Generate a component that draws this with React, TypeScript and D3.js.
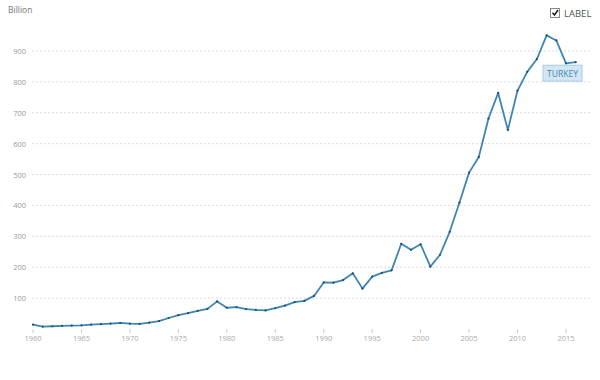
import React from "react";
import * as d3 from "d3";

const years: number[] = [
  1960, 1961, 1962, 1963, 1964, 1965, 1966, 1967, 1968, 1969,
  1970, 1971, 1972, 1973, 1974, 1975, 1976, 1977, 1978, 1979,
  1980, 1981, 1982, 1983, 1984, 1985, 1986, 1987, 1988, 1989,
  1990, 1991, 1992, 1993, 1994, 1995, 1996, 1997, 1998, 1999,
  2000, 2001, 2002, 2003, 2004, 2005, 2006, 2007, 2008, 2009,
  2010, 2011, 2012, 2013, 2014, 2015, 2016,
];
const gdpBillion: number[] = [
  14.0, 8.0, 8.9, 10.4, 11.2, 11.9, 14.1, 15.7, 17.5, 19.5,
  17.1, 16.3, 20.4, 25.7, 35.6, 44.6, 51.3, 58.7, 65.1, 89.4,
  68.8, 71.0, 64.5, 61.7, 60.0, 67.2, 75.7, 87.2, 90.9, 107.1,
  150.7, 150.0, 158.5, 180.2, 130.7, 169.5, 181.5, 189.8, 275.9, 256.4,
  274.3, 201.8, 240.3, 314.6, 408.9, 506.3, 557.1, 681.3, 764.3, 644.6,
  771.9, 832.5, 874.0, 950.6, 934.2, 859.8, 863.7,
];
const yTicks: number[] = [100, 200, 300, 400, 500, 600, 700, 800, 900];
const xTicks: number[] = [1960, 1965, 1970, 1975, 1980, 1985, 1990, 1995, 2000, 2005, 2010, 2015];
const seriesLabel = "TURKEY";
const unitLabel = "Billion";
const toggleLabel = "LABEL";

export default function App() {
  const W = 600, H = 380;
  const x = d3.scaleLinear().domain([1960, 2015]).range([33, 566]);
  const y = d3.scaleLinear().domain([0, 900]).range([329, 51]);
  const data = years.map((yr, i) => ({ yr, v: gdpBillion[i] }));
  const line = d3.line<{ yr: number; v: number }>().x(d => x(d.yr)).y(d => y(d.v));
  const font = "'Open Sans', 'Noto Sans', sans-serif";
  const last = data[data.length - 1];
  return (
    <svg width={W} height={H} style={{ position: "absolute", left: 0, top: 0, background: "#fff" }} fontFamily={font}>
      <rect x={0} y={0} width={W} height={H} fill="#fff" />
      <text x={8} y={13} fontSize={8.5} fill="#777">{unitLabel}</text>
      {yTicks.map(t => (
        <g key={t}>
          <line x1={32} x2={592} y1={y(t)} y2={y(t)} stroke="#dcdcdc" strokeWidth={1} strokeDasharray="2,2" />
          <text x={26} y={y(t) + 3} fontSize={7.5} fill="#999" textAnchor="end">{t}</text>
        </g>
      ))}
      {xTicks.map(t => (
        <g key={t}>
          <line x1={x(t)} x2={x(t)} y1={329} y2={333} stroke="#ccc" />
          <text x={x(t)} y={341} fontSize={7.5} fill="#aaa" textAnchor="middle">{t}</text>
        </g>
      ))}
      <path d={line(data) || ""} fill="none" stroke="#3d86b3" strokeWidth={1.8} strokeLinejoin="round" />
      {data.map(d => (
        <circle key={d.yr} cx={x(d.yr)} cy={y(d.v)} r={1.1} fill="#1f4e6e" />
      ))}
      <rect x={543} y={y(last.v) + 3} width={39} height={16} fill="#d4e6f3" stroke="#a9cbe3" strokeWidth={1} />
      <text x={562.5} y={y(last.v) + 14.5} fontSize={8.5} fill="#3d86b3" textAnchor="middle">{seriesLabel}</text>
      <rect x={550.5} y={8.5} width={9} height={9} fill="#fff" stroke="#888" strokeWidth={1} />
      <path d="M552.5,12.8 L554.5,15 L558,10" fill="none" stroke="#222" strokeWidth={1.6} />
      <text x={564} y={16.5} fontSize={9.5} fill="#555">{toggleLabel}</text>
    </svg>
  );
}
